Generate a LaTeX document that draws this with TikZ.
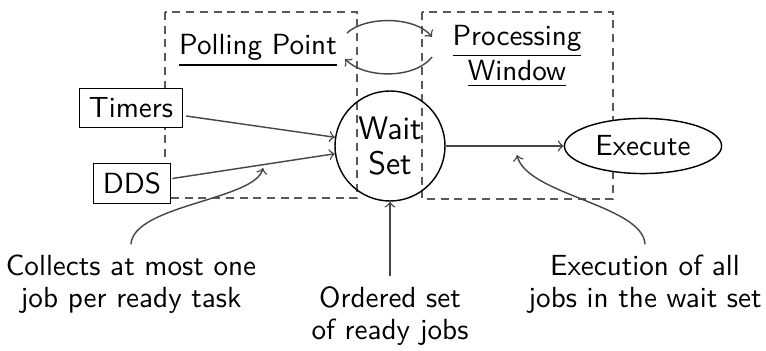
\documentclass[tikz,border=0pt]{standalone}
\usetikzlibrary{shapes.geometric,calc}
\begin{document}
\begin{tikzpicture}[x=0.35pt,y=-0.35pt,
  every node/.style={font=\fontsize{10.2}{11.4}\selectfont\sffamily},
  dashbox/.style={draw=black!65,dash pattern=on 2.8pt off 2pt,line width=0.5pt},
  conn/.style={draw=black!72,->,line width=0.5pt},
  srcbox/.style={draw=black,fill=white,line width=0.5pt},
  callout/.style={align=center}]
\useasboundingbox (0,0) rectangle (766,351);
% dashed regions
\draw[dashbox] (165,12) rectangle (357,198);
\draw[dashbox] (422,12) rectangle (613,199);
% nodes
\node[anchor=base] (pp) at (258,55) {\underline{Polling Point}};
\node[align=center] (pw) at (517,56) {\underline{Processing}\\[1pt]\underline{Window}};
\node[srcbox] (t) at (131,108) {Timers};
\node[srcbox] (d) at (132,183.5) {DDS};
\node[circle,draw=black,line width=0.5pt,minimum size=38.5pt,inner sep=0pt,align=center,
  font=\fontsize{11.4}{12.3}\selectfont\sffamily] (ws) at (390,146) {Wait\\Set};
\node[ellipse,draw=black,fill=white,line width=0.5pt,minimum width=55pt,minimum height=19.3pt,inner sep=1pt] (ex) at (643,146) {Execute};
\node[callout] (lc) at (131,284) {Collects at most one\\job per ready task};
\node[callout] (mc) at (390,316) {Ordered set\\of ready jobs};
\node[callout] (rc) at (645,284) {Execution of all\\jobs in the wait set};
% arc endpoints
\coordinate (a1) at (347,33);
\coordinate (a2) at (432,37);
\coordinate (b1) at (432,57);
\coordinate (b2) at (345,59);
\coordinate (lt) at (263,168);
\coordinate (rt) at (517,155);
% connectors
\draw[conn] (a1) .. controls (365,16) and (415,16) .. (a2);
\draw[conn] (b1) .. controls (415,79) and (365,79) .. (b2);
\draw[conn] ($(t.east)+(3,8)$) -- (ws.171.5);
\draw[conn] ($(d.east)+(1,-5)$) -- (ws.188.5);
\draw[conn] (ws.east) -- (ex.west);
\draw[conn] (mc.north) -- (ws.south);
\draw[conn] (lc.north) .. controls (133,205) and (255,200) .. (lt);
\draw[conn] (rc.north) .. controls (643,205) and (527,195) .. (rt);
\end{tikzpicture}
\end{document}
